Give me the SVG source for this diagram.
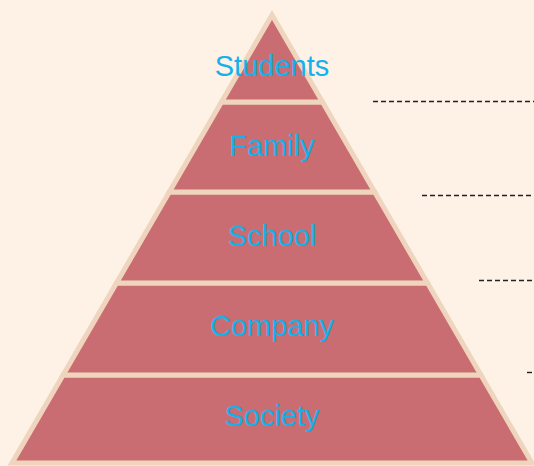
<svg xmlns="http://www.w3.org/2000/svg" width="534" height="466" viewBox="0 0 534 466">
<style>
.layer{fill:#C96D72;stroke:#F0D5BE;stroke-width:5;stroke-linejoin:miter}
.lbl{font-family:"Liberation Sans",Arial,sans-serif;font-size:29px;fill:#14B1EC;text-anchor:middle}
.dash{stroke:#222;stroke-width:1.4;stroke-dasharray:5 3;fill:none}
</style>
<rect width="534" height="466" fill="#FEF1E6"/>
<g id="society"><polygon class="layer" points="63.1,375 480.9,375 532,463 12,463"/><text class="lbl" x="272" y="426">Society</text></g>
<g id="company"><polygon class="layer" points="116.5,283 427.5,283 480.9,375 63.1,375"/><text class="lbl" x="272" y="336">Company</text></g>
<g id="school"><polygon class="layer" points="169.3,192 374.7,192 427.5,283 116.5,283"/><text class="lbl" x="272" y="246">School</text></g>
<g id="family"><polygon class="layer" points="221.5,102 322.5,102 374.7,192 169.3,192"/><text class="lbl" x="272" y="156">Family</text></g>
<g id="students"><polygon class="layer" points="272,15 322.5,102 221.5,102"/><text class="lbl" x="272" y="76">Students</text></g>
<g id="connectors">
<line class="dash" x1="373" y1="101.5" x2="534" y2="101.5"/>
<line class="dash" x1="422" y1="195.5" x2="534" y2="195.5"/>
<line class="dash" x1="479" y1="280.5" x2="534" y2="280.5"/>
<line class="dash" x1="527" y1="372.5" x2="534" y2="372.5"/>
</g>
</svg>
